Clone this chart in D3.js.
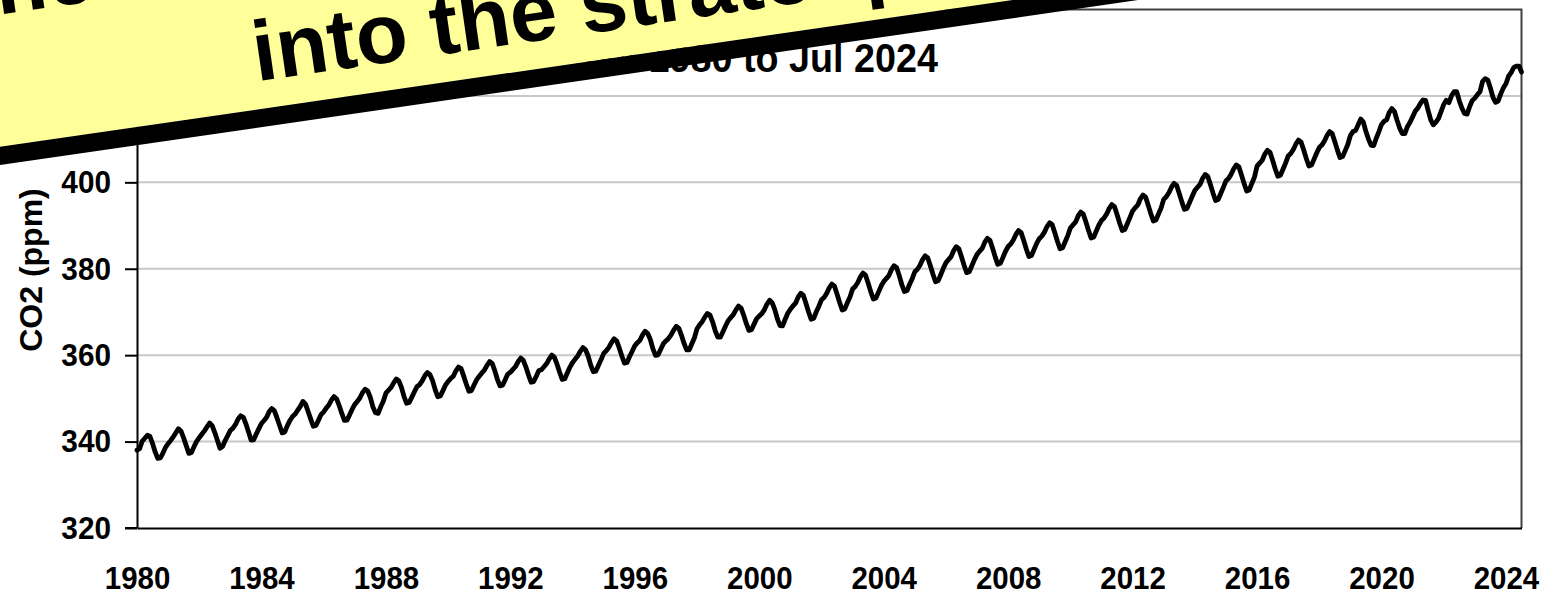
<!DOCTYPE html>
<html><head><meta charset="utf-8">
<script src="https://cdn.jsdelivr.net/npm/d3@7"></script>
<style>body{margin:0;background:#fff;overflow:hidden} svg{display:block}</style>
</head><body><svg id="c" width="1543" height="605"></svg>
<script>
// ---- data (monthly mean CO2, ppm, Jan 1980 .. Jul 2024) ----
const startYear = 1980;
const co2_1980s = [
338.01,338.36,340.08,340.77,341.46,341.17,339.56,337.60,336.10,336.20,337.34,338.66,
339.52,340.28,341.10,342.06,342.99,342.39,340.83,339.03,337.27,337.48,338.83,340.05,
340.90,341.68,342.49,343.41,344.31,343.70,342.09,340.29,338.44,338.87,340.25,341.38,
342.58,343.12,343.96,345.24,345.98,345.64,344.11,342.28,340.35,340.41,341.75,342.99,
344.18,344.88,345.62,346.95,347.66,347.11,345.48,343.71,342.01,342.24,343.70,344.89,
345.81,346.37,347.26,348.14,349.30,348.66,346.97,345.20,343.54,343.71,344.96,346.25,
346.88,347.75,348.49,349.61,350.40,349.87,348.29,346.52,344.92,344.98,346.19,347.51,
348.62,349.30,350.14,351.35,352.12,351.71,350.20,348.01,346.67,346.52,348.05,349.33,
351.20,351.89,352.55,353.60,354.48,354.02,352.56,350.41,348.87,349.06,350.29,351.55,
352.70,353.18,354.05,355.21,355.96,355.48,354.10,352.04,350.39,350.55,351.80,353.12];
const co2_1990s = [
353.88,354.61,355.14,356.39,357.25,356.90,355.15,353.33,351.64,351.80,353.08,354.33,
355.12,355.86,356.57,357.64,358.51,358.10,356.39,354.41,352.90,353.04,354.30,355.62,
356.04,356.70,357.38,358.48,359.34,358.82,357.25,355.39,353.73,353.89,355.14,356.45,
356.62,357.31,358.06,359.15,360.02,359.49,357.92,356.05,354.40,354.55,355.93,357.24,
358.29,359.10,359.82,360.90,361.77,361.25,359.81,357.69,356.17,356.30,357.68,358.98,
360.40,361.01,361.80,362.92,363.78,363.29,361.68,359.80,358.16,358.31,359.70,360.90,
362.18,362.90,363.47,364.69,365.55,365.02,363.60,361.45,359.94,360.08,361.36,362.66,
363.30,363.88,364.72,365.81,366.70,366.19,364.60,362.72,361.21,361.22,362.63,364.04,
366.12,367.02,367.75,368.80,369.66,369.28,367.73,365.70,364.18,364.16,365.42,366.75,
367.96,368.70,369.38,370.49,371.36,370.88,369.24,367.35,365.74,365.90,367.18,368.46];
const co2_2000s = [
369.05,369.62,370.55,371.82,372.70,372.10,370.56,368.42,366.85,366.81,368.31,369.70,
370.62,371.38,372.02,373.44,374.33,373.85,372.03,370.05,368.31,368.55,370.02,371.33,
372.80,373.36,374.29,375.58,376.45,375.98,374.15,372.20,370.46,370.70,372.18,373.48,
375.31,375.90,376.82,378.11,379.00,378.52,376.68,374.70,372.98,373.21,374.60,375.99,
377.02,377.73,378.40,379.82,380.70,380.25,378.41,376.30,374.71,374.95,376.42,377.70,
379.31,379.88,380.80,382.12,383.00,382.51,380.69,378.72,376.98,377.20,378.61,380.09,
381.40,382.12,382.80,384.21,385.10,384.60,382.79,380.82,379.10,379.31,380.70,382.12,
383.33,384.06,384.72,386.15,387.03,386.55,384.72,382.75,381.02,381.25,382.64,384.05,
385.15,385.74,386.66,387.95,388.84,388.36,386.55,384.56,382.83,383.07,384.45,385.86,
386.96,387.55,388.48,389.76,390.65,390.18,388.35,386.38,384.64,384.87,386.26,387.68];
const co2_2010s = [
389.42,390.14,390.80,392.22,393.11,392.63,390.80,388.84,387.10,387.33,388.72,390.12,
391.18,391.76,392.69,393.97,394.86,394.39,392.55,390.59,388.85,389.08,390.47,391.88,
393.38,394.10,394.76,396.19,397.07,396.60,394.76,392.80,391.06,391.29,392.68,394.09,
396.06,396.65,397.58,398.88,399.76,399.28,397.44,395.48,393.74,393.97,395.36,396.78,
398.12,398.85,399.51,400.93,401.82,401.35,399.51,397.55,395.81,396.04,397.43,398.84,
400.32,400.92,401.85,403.13,404.02,403.55,401.71,399.75,398.01,398.24,399.75,401.19,
403.74,404.45,405.11,406.55,407.42,406.94,405.12,403.15,401.40,401.63,403.03,404.45,
406.08,406.67,407.60,408.89,409.77,409.30,407.46,405.50,403.76,403.99,405.38,406.80,
408.04,408.62,409.56,410.85,411.73,411.26,409.42,407.46,405.72,405.95,407.34,408.76,
410.83,411.75,411.97,413.33,414.64,413.93,411.74,409.95,408.54,408.52,410.25,411.76];
const co2_2020s = [
413.39,414.11,414.51,416.21,417.07,416.38,414.38,412.55,411.29,411.28,412.89,413.89,
415.15,416.47,417.16,418.24,419.05,418.97,416.60,414.47,413.30,413.93,414.82,416.43,
418.01,418.99,418.45,420.02,420.99,420.99,418.90,417.19,415.95,415.78,417.51,418.95,
419.47,420.31,420.99,423.36,424.00,423.68,421.83,419.68,418.51,418.82,420.46,421.86,
422.80,424.55,425.38,426.57,426.90,426.91,425.55];

const xTickYears = [1980,1984,1988,1992,1996,2000,2004,2008,2012,2016,2020,2024];
const yTickValues = [320,340,360,380,400,420,440];
const titleText = "Jan 1980 to Jul 2024";
const yAxisLabel = "CO2 (ppm)";
const bannerLines = ["The", "into the stratosphere"];

// ---- drawing ----
const co2 = [].concat(co2_1980s, co2_1990s, co2_2000s, co2_2010s, co2_2020s);
const FONT = "'Liberation Sans', Arial, Helvetica, sans-serif";
const svg = d3.select("#c");
const M = {left:137, right:1521.5, top:9.5, bottom:528};

// squeeze text horizontally (the reference font is slightly condensed)
function condense(sel, f) {
  sel.each(function () {
    const w = this.getComputedTextLength();
    if (w > 0) d3.select(this).attr("textLength", w * f).attr("lengthAdjust", "spacingAndGlyphs");
  });
}

const x = d3.scaleLinear().domain([0, co2.length - 1]).range([M.left, M.right]);
const y = d3.scaleLinear().domain([320, 440]).range([M.bottom, M.top]);

// gridlines
svg.append("g").selectAll("line")
  .data(yTickValues.filter(v => v > 320 && v < 440))
  .join("line")
  .attr("x1", M.left).attr("x2", M.right)
  .attr("y1", d => y(d)).attr("y2", d => y(d))
  .attr("stroke", "#c8c8c8").attr("stroke-width", 2);

// plot border top/right
svg.append("path")
  .attr("d", `M${M.left},${y(440)}H${M.right}V${M.bottom}`)
  .attr("fill", "none").attr("stroke", "#404040").attr("stroke-width", 2);

// data line
svg.append("path")
  .datum(co2)
  .attr("d", d3.line().x((d, i) => x(i)).y(d => y(d)))
  .attr("fill", "none").attr("stroke", "#000").attr("stroke-width", 4.8)
  .attr("stroke-linejoin", "round").attr("stroke-linecap", "round");

// y axis
const yAxis = svg.append("g").attr("transform", `translate(${M.left},0)`)
  .call(d3.axisLeft(y).tickValues(yTickValues).tickSize(12).tickSizeOuter(0).tickPadding(14)
    .tickFormat(d => d < 440 ? d3.format("d")(d) : ""));
yAxis.select(".domain").attr("stroke", "#000").attr("stroke-width", 2);
yAxis.selectAll(".tick line").attr("stroke", "#000").attr("stroke-width", 2);
yAxis.selectAll(".tick text").attr("font-family", FONT).attr("font-weight", "bold")
  .attr("font-size", 32).attr("fill", "#000").call(condense, 0.93);

// x axis
const xAxis = svg.append("g").attr("transform", `translate(0,${M.bottom})`)
  .call(d3.axisBottom(x).tickValues(xTickYears.map(yr => (yr - startYear) * 12))
    .tickSize(0).tickSizeOuter(0).tickPadding(39)
    .tickFormat((d, i) => String(xTickYears[i])));
xAxis.select(".domain").attr("stroke", "#000").attr("stroke-width", 2);
xAxis.selectAll(".tick text").attr("font-family", FONT).attr("font-weight", "bold")
  .attr("font-size", 31).attr("fill", "#000").call(condense, 0.95);
svg.append("line").attr("x1", 125).attr("x2", M.left).attr("y1", M.bottom).attr("y2", M.bottom)
  .attr("stroke", "#000").attr("stroke-width", 2);

// title
svg.append("text").attr("x", 938).attr("y", 72).attr("text-anchor", "end")
  .attr("font-family", FONT).attr("font-weight", "bold").attr("font-size", 41)
  .text(titleText).call(condense, 0.92);

// y axis label
svg.append("text").attr("transform", "translate(42,270) rotate(-90)")
  .attr("text-anchor", "middle").attr("font-family", FONT).attr("font-weight", "bold")
  .attr("font-size", 32).text(yAxisLabel);

// banner overlay
const banner = svg.append("g").attr("transform", "translate(0,165) rotate(-8.25)");
banner.append("rect").attr("x", -300).attr("y", -600).attr("width", 2600).attr("height", 582)
  .attr("fill", "#ffff99");
banner.append("rect").attr("x", -300).attr("y", -18).attr("width", 2600).attr("height", 18)
  .attr("fill", "#000");
banner.append("text").attr("x", -32).attr("y", -149)
  .attr("font-family", FONT).attr("font-weight", "bold").attr("font-size", 85)
  .text(bannerLines[0]);
banner.append("text").attr("x", 266).attr("y", -46)
  .attr("font-family", FONT).attr("font-weight", "bold").attr("font-size", 85)
  .text(bannerLines[1]);
</script></body></html>
